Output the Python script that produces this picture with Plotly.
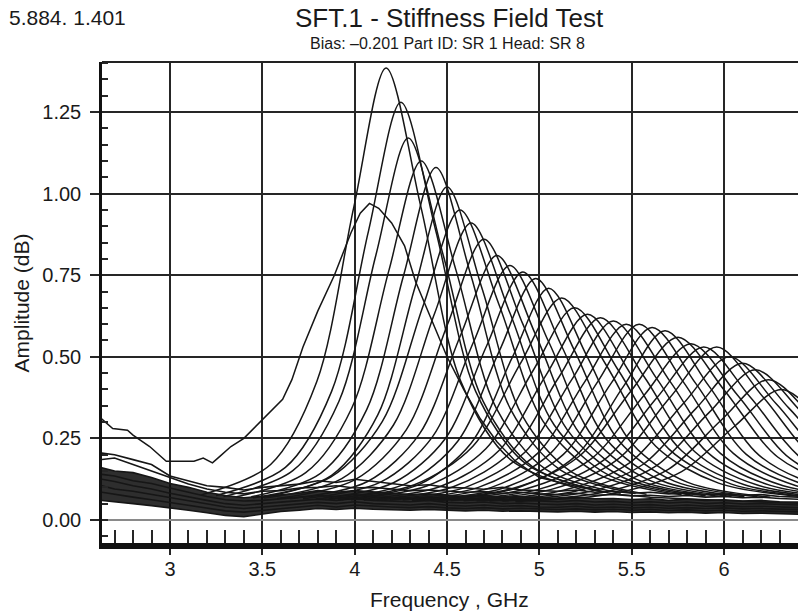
import plotly.graph_objects as go

# ---------------- text ----------------
corner_text = "5.884. 1.401"
title_text = "SFT.1 - Stiffness Field Test"
subtitle_text = "Bias: –0.201 Part ID: SR 1 Head: SR 8"
x_title = "Frequency , GHz"
y_title = "Amplitude (dB)"

x_tick_vals = [3, 3.5, 4, 4.5, 5, 5.5, 6]
x_tick_text = ["3", "3.5", "4", "4.5", "5", "5.5", "6"]
x_minor_vals = [2.7, 2.8, 2.9, 3.1, 3.2, 3.3, 3.4, 3.6, 3.7, 3.8, 3.9, 4.1, 4.2, 4.3, 4.4,
                4.6, 4.7, 4.8, 4.9, 5.1, 5.2, 5.3, 5.4, 5.6, 5.7, 5.8, 5.9, 6.1, 6.2, 6.3]
y_tick_vals = [0, 0.25, 0.5, 0.75, 1.0, 1.25]
y_tick_text = ["0.00", "0.25", "0.50", "0.75", "1.00", "1.25"]

# ---------------- noisy baseline sweeps (GHz, dB) ----------------
base_freq = [2.63, 2.70, 2.80, 2.90, 3.00, 3.10, 3.20, 3.30, 3.40, 3.50,
             3.60, 3.70, 3.80, 3.90, 4.00, 4.10, 4.20, 4.30, 4.40, 4.50,
             4.60, 4.70, 4.80, 4.90, 5.00, 5.10, 5.20, 5.30, 5.40, 5.50,
             5.60, 5.70, 5.80, 5.90, 6.00, 6.10, 6.20, 6.30, 6.40, 6.45]
base_01 = [.205, .20, .185, .17, .135, .12, .105, .10, .092, .10, .105, .11, .12, .115, .125, .118, .11, .105, .108, .10,
           .098, .094, .10, .092, .09, .088, .092, .085, .088, .082, .085, .08, .083, .078, .08, .076, .078, .072, .07, .068]
base_02 = [.185, .19, .17, .15, .128, .11, .095, .085, .08, .088, .09, .098, .10, .105, .098, .10, .095, .09, .092, .088,
           .085, .087, .082, .085, .08, .078, .082, .076, .078, .074, .076, .072, .075, .07, .072, .068, .07, .066, .064, .062]
base_03 = [.16, .15, .145, .13, .112, .10, .085, .075, .068, .072, .078, .082, .09, .085, .09, .086, .082, .078, .08, .075,
           .072, .075, .07, .072, .068, .066, .07, .065, .066, .063, .065, .06, .064, .06, .062, .058, .06, .056, .055, .054]
base_04 = [.14, .135, .12, .112, .098, .085, .072, .062, .058, .06, .066, .07, .075, .072, .078, .07, .068, .066, .07, .064,
           .062, .065, .06, .062, .058, .056, .06, .055, .057, .053, .056, .052, .055, .05, .053, .049, .05, .048, .046, .045]
base_05 = [.125, .118, .105, .095, .082, .07, .06, .05, .045, .05, .055, .06, .064, .06, .066, .06, .058, .056, .06, .054,
           .052, .055, .05, .052, .049, .047, .05, .046, .048, .045, .047, .043, .046, .042, .044, .041, .042, .04, .038, .037]
base_06 = [.105, .095, .088, .078, .068, .058, .048, .04, .035, .04, .046, .05, .054, .05, .056, .05, .048, .046, .05, .045,
           .043, .046, .042, .044, .04, .039, .042, .038, .04, .037, .039, .036, .038, .035, .037, .034, .035, .033, .032, .031]
base_07 = [.085, .078, .07, .062, .054, .045, .036, .028, .024, .03, .036, .04, .045, .04, .046, .042, .04, .038, .041, .037,
           .035, .038, .034, .036, .033, .032, .034, .031, .033, .03, .032, .029, .031, .028, .03, .027, .028, .026, .025, .024]
base_08 = [.06, .055, .05, .044, .038, .03, .022, .014, .01, .018, .026, .03, .035, .032, .036, .033, .031, .03, .032, .029,
           .028, .03, .027, .028, .026, .025, .027, .024, .026, .023, .025, .022, .024, .021, .023, .02, .021, .019, .018, .017]

# ---------------- first (off-set) sweep ----------------
special_freq = [2.63, 2.69, 2.77, 2.80, 2.89, 2.98, 3.04, 3.13, 3.18, 3.23, 3.27, 3.33, 3.40, 3.47, 3.51, 3.56,
                3.61, 3.66, 3.72, 3.80, 3.89, 3.98, 4.03, 4.08, 4.13, 4.20, 4.27, 4.33, 4.42, 4.50, 4.59, 4.68, 4.77,
                4.87, 5.00, 5.22, 5.40, 5.60, 6.00, 6.45]
special_amp = [0.31, 0.28, 0.275, 0.26, 0.225, 0.18, 0.18, 0.18, 0.19, 0.175, 0.195, 0.225, 0.25, 0.29, 0.31, 0.34,
               0.37, 0.43, 0.53, 0.64, 0.75, 0.88, 0.94, 0.97, 0.955, 0.91, 0.84, 0.73, 0.61, 0.50, 0.40, 0.31, 0.24,
               0.18, 0.13, 0.10, 0.08, 0.07, 0.06, 0.05]

# ---------------- resonance sweeps: (GHz, dB) ----------------
curve_02 = [(3.17, .077), (3.545, .170), (3.795, .424), (3.995, .958), (4.17, 1.385), (4.359, .958), (4.575, .424), (4.845, .184), (5.25, .090)]
curve_03 = [(3.25, .075), (3.625, .161), (3.875, .394), (4.075, .886), (4.25, 1.28), (4.439, .886), (4.655, .394), (4.925, .173), (5.33, .087)]
curve_04 = [(3.29, .072), (3.665, .151), (3.915, .364), (4.115, .812), (4.29, 1.17), (4.479, .812), (4.695, .364), (4.965, .162), (5.37, .084)]
curve_05 = [(3.36, .071), (3.735, .145), (3.985, .344), (4.185, .764), (4.36, 1.10), (4.549, .764), (4.765, .344), (5.035, .155), (5.44, .082)]
curve_06 = [(3.44, .071), (3.815, .143), (4.065, .338), (4.265, .750), (4.44, 1.08), (4.629, .750), (4.845, .338), (5.115, .153), (5.52, .081)]
curve_07 = [(3.50, .069), (3.875, .137), (4.125, .322), (4.325, .710), (4.50, 1.02), (4.689, .710), (4.905, .322), (5.175, .147), (5.58, .079)]
curve_08 = [(3.45, .068), (3.87, .131), (4.15, .302), (4.374, .662), (4.57, .95), (4.78, .662), (5.02, .302), (5.32, .140), (5.77, .077)]
curve_09 = [(3.51, .067), (3.93, .127), (4.21, .291), (4.434, .635), (4.63, .91), (4.84, .635), (5.08, .291), (5.38, .136), (5.83, .076)]
curve_10 = [(3.58, .066), (4.00, .123), (4.28, .277), (4.504, .601), (4.70, .86), (4.91, .601), (5.15, .277), (5.45, .131), (5.90, .074)]
curve_11 = [(3.65, .065), (4.07, .118), (4.35, .263), (4.574, .567), (4.77, .81), (4.98, .567), (5.22, .263), (5.52, .126), (5.97, .073)]
curve_12 = [(3.72, .065), (4.14, .116), (4.42, .254), (4.644, .546), (4.84, .78), (5.05, .546), (5.29, .254), (5.59, .123), (6.04, .072)]
curve_13 = [(3.79, .064), (4.21, .114), (4.49, .249), (4.714, .533), (4.91, .76), (5.12, .533), (5.36, .249), (5.66, .121), (6.11, .071)]
curve_14 = [(3.86, .064), (4.28, .112), (4.56, .243), (4.784, .519), (4.98, .74), (5.19, .519), (5.43, .243), (5.73, .119), (6.18, .071)]
curve_15 = [(3.93, .063), (4.35, .109), (4.63, .235), (4.854, .499), (5.05, .71), (5.26, .499), (5.50, .235), (5.80, .116), (6.25, .070)]
curve_16 = [(3.84, .063), (4.32, .107), (4.64, .226), (4.896, .478), (5.12, .68), (5.358, .478), (5.63, .226), (5.97, .113), (6.48, .069)]
curve_17 = [(3.91, .062), (4.39, .104), (4.71, .218), (4.966, .458), (5.19, .65), (5.428, .458), (5.70, .218), (6.04, .110), (6.55, .068)]
curve_18 = [(3.98, .062), (4.46, .102), (4.78, .212), (5.036, .444), (5.26, .63), (5.498, .444), (5.77, .212), (6.11, .108), (6.62, .067)]
curve_19 = [(4.05, .061), (4.53, .101), (4.85, .210), (5.106, .438), (5.33, .62), (5.568, .438), (5.84, .210), (6.18, .107), (6.69, .067)]
curve_20 = [(4.12, .061), (4.60, .100), (4.92, .207), (5.176, .431), (5.40, .61), (5.638, .431), (5.91, .207), (6.25, .106), (6.76, .067)]
curve_21 = [(4.19, .061), (4.67, .100), (4.99, .204), (5.246, .424), (5.47, .60), (5.708, .424), (5.98, .204), (6.32, .105), (6.83, .067)]
curve_22 = [(4.26, .061), (4.74, .100), (5.06, .204), (5.316, .424), (5.54, .60), (5.778, .424), (6.05, .204), (6.39, .105), (6.90, .067)]
curve_23 = [(4.33, .061), (4.81, .099), (5.13, .201), (5.386, .417), (5.61, .59), (5.848, .417), (6.12, .201), (6.46, .104), (6.97, .066)]
curve_24 = [(4.40, .061), (4.88, .098), (5.20, .198), (5.456, .410), (5.68, .58), (5.918, .410), (6.19, .198), (6.53, .103), (7.04, .066)]
curve_25 = [(4.31, .060), (4.85, .096), (5.21, .193), (5.498, .397), (5.75, .56), (6.002, .397), (6.29, .193), (6.65, .101), (7.19, .065)]
curve_26 = [(4.38, .060), (4.92, .094), (5.28, .187), (5.568, .383), (5.82, .54), (6.072, .383), (6.36, .187), (6.72, .099), (7.26, .065)]
curve_27 = [(4.45, .060), (4.99, .093), (5.35, .184), (5.638, .376), (5.89, .53), (6.142, .376), (6.43, .184), (6.79, .098), (7.33, .064)]
curve_28 = [(4.52, .060), (5.06, .093), (5.42, .184), (5.708, .376), (5.96, .53), (6.212, .376), (6.50, .184), (6.86, .098), (7.40, .064)]
curve_29 = [(4.59, .059), (5.13, .091), (5.49, .176), (5.778, .356), (6.03, .50), (6.282, .356), (6.57, .176), (6.93, .095), (7.47, .064)]
curve_30 = [(4.66, .059), (5.20, .089), (5.56, .170), (5.848, .342), (6.10, .48), (6.352, .342), (6.64, .170), (7.00, .093), (7.54, .063)]
curve_31 = [(4.73, .058), (5.27, .087), (5.63, .165), (5.918, .329), (6.17, .46), (6.422, .329), (6.71, .165), (7.07, .091), (7.61, .062)]
curve_32 = [(4.80, .058), (5.34, .084), (5.70, .156), (5.988, .308), (6.24, .43), (6.492, .308), (6.78, .156), (7.14, .088), (7.68, .061)]
curve_33 = [(4.87, .057), (5.41, .082), (5.77, .148), (6.058, .288), (6.31, .40), (6.562, .288), (6.85, .148), (7.21, .085), (7.75, .060)]

resonance_curves = [curve_02, curve_03, curve_04, curve_05, curve_06, curve_07, curve_08, curve_09,
                    curve_10, curve_11, curve_12, curve_13, curve_14, curve_15, curve_16, curve_17,
                    curve_18, curve_19, curve_20, curve_21, curve_22, curve_23, curve_24, curve_25,
                    curve_26, curve_27, curve_28, curve_29, curve_30, curve_31, curve_32, curve_33]

LINE = "#161616"
GRID = "#262626"

fig = go.Figure()

# dense baseline band: lower sweep then filled up to an upper sweep
fig.add_trace(go.Scatter(x=base_freq, y=base_08, mode="lines",
                         line=dict(color=LINE, width=1.6), hoverinfo="skip"))
fig.add_trace(go.Scatter(x=base_freq, y=base_03, mode="lines", fill="tonexty",
                         fillcolor="rgba(12,12,12,0.86)",
                         line=dict(color=LINE, width=1.6), hoverinfo="skip"))
for b in [base_01, base_02, base_04, base_05, base_06, base_07]:
    fig.add_trace(go.Scatter(x=base_freq, y=b, mode="lines",
                             line=dict(color=LINE, width=1.6), hoverinfo="skip"))

for c in resonance_curves:
    fig.add_trace(go.Scatter(x=[p[0] for p in c], y=[p[1] for p in c], mode="lines",
                             line=dict(color=LINE, width=1.5, shape="spline", smoothing=0.9),
                             hoverinfo="skip"))

fig.add_trace(go.Scatter(x=special_freq, y=special_amp, mode="lines",
                         line=dict(color=LINE, width=1.5), hoverinfo="skip"))

FONT = "Liberation Sans, Arial, Helvetica, sans-serif"

fig.update_layout(
    width=798, height=613,
    margin=dict(l=102, r=0, t=62, b=70),
    plot_bgcolor="white", paper_bgcolor="white",
    showlegend=False,
    font=dict(family=FONT, color="#1a1a1a", size=20),
)

fig.update_xaxes(
    range=[2.632, 6.40],
    tickvals=x_tick_vals, ticktext=x_tick_text,
    showgrid=True, gridcolor=GRID, gridwidth=2,
    showline=True, linecolor="#111111", linewidth=6,
    ticks="outside", ticklen=6, tickwidth=2, tickcolor=GRID,
    tickfont=dict(size=20, family=FONT, color="#1a1a1a"),
    ticklabelstandoff=-3,
    minor=dict(ticks="inside", tickmode="array", tickvals=x_minor_vals, ticklen=13, tickwidth=2,
               tickcolor=GRID, showgrid=False),
    zeroline=False,
)
fig.update_yaxes(
    range=[-0.0705, 1.4032],
    tickvals=y_tick_vals, ticktext=y_tick_text,
    showgrid=True, gridcolor=GRID, gridwidth=2,
    showline=True, linecolor="#111111", linewidth=2.5,
    ticks="outside", ticklen=9, tickwidth=2, tickcolor=GRID,
    tickfont=dict(size=20, family=FONT, color="#1a1a1a"),
    ticklabelstandoff=5,
    minor=dict(ticks="inside", dtick=0.05, tick0=0, ticklen=6, tickwidth=2,
               tickcolor=GRID, showgrid=False),
    zeroline=True, zerolinecolor="#8a8a8a", zerolinewidth=2,
)

# top frame line
fig.add_shape(type="line", xref="paper", yref="paper", x0=0, x1=1, y0=1, y1=1,
              line=dict(color="#222222", width=2))

ann = [
    dict(text=corner_text, x=-0.1365, y=1.0915, xanchor="left", yanchor="middle", font=dict(size=21)),
    dict(text=title_text, x=0.4986, y=1.091, xanchor="center", yanchor="middle", font=dict(size=26)),
    dict(text=subtitle_text, x=0.497, y=1.0395, xanchor="center", yanchor="middle", font=dict(size=16)),
    dict(text=x_title, x=0.4986, y=-0.1185, xanchor="center", yanchor="middle", font=dict(size=21)),
    dict(text=y_title, x=-0.115, y=0.5, xanchor="center", yanchor="middle", textangle=-90, font=dict(size=21)),
]
for a in ann:
    a.update(xref="paper", yref="paper", showarrow=False)
    a["font"].update(family=FONT, color="#1a1a1a")
    fig.add_annotation(**a)

fig.write_html("out.html")
